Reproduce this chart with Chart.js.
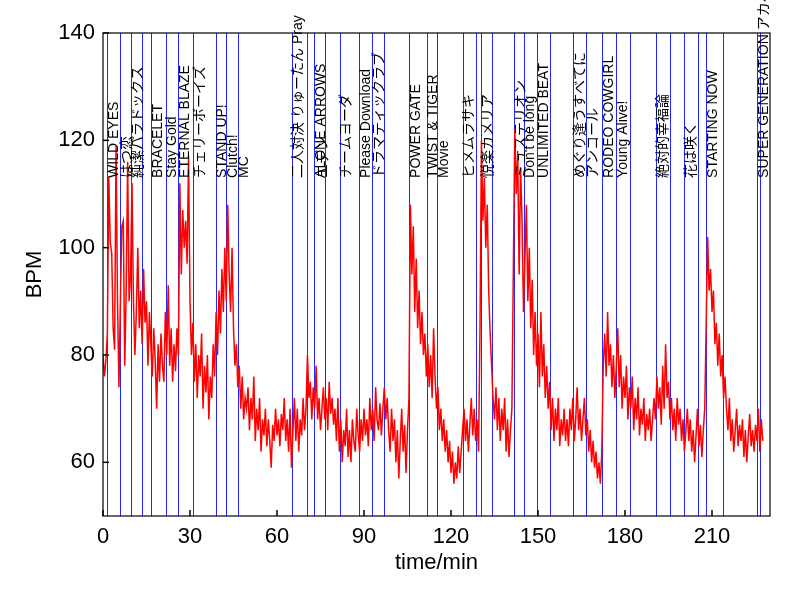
<!DOCTYPE html>
<html><head><meta charset="utf-8">
<script src="https://cdn.jsdelivr.net/npm/chart.js@4/dist/chart.umd.min.js"></script>
<style>html,body{margin:0;padding:0;background:#fff}#wrap{width:800px;height:600px}</style>
</head><body><div id="wrap"><canvas id="c" width="800" height="600"></canvas></div>
<script>
// sampling interval of the heart-rate record (minutes)
const SAMPLE_MIN = 0.5;
// heart rate (BPM), one value per sample
const bpm = [
 80,76,79,84,113,101,99,85,81,119,90,74,90,104,105,78,92,116,90,95,
 112,90,80,88,100,85,92,82,96,86,90,78,88,82,76,85,79,70,82,75,
 84,78,75,88,80,93,78,85,75,82,77,85,80,112,95,107,100,105,97,117,
 90,80,86,75,82,72,80,76,84,70,78,73,80,68,76,72,82,76,88,80,
 92,84,96,88,100,90,108,95,88,100,85,78,82,74,78,70,76,68,72,70,
 74,66,72,68,76,64,70,66,72,62,68,65,70,63,68,64,59,67,64,70,
 65,68,63,69,66,72,64,68,62,70,59,66,72,64,70,62,68,65,72,66,
 70,80,72,75,68,74,70,78,68,72,66,70,74,68,72,66,75,69,72,67,
 70,64,72,62,68,60,66,63,70,61,66,60,68,64,62,70,65,62,68,64,
 70,65,68,63,72,66,70,64,74,68,66,71,65,70,74,68,72,66,62,70,
 64,68,60,66,57,64,70,62,67,58,66,72,108,95,104,88,98,85,92,82,
 88,80,84,76,82,74,80,72,85,76,70,74,66,70,64,68,62,66,60,64,
 58,62,56,60,57,63,58,62,66,70,64,68,62,67,72,65,70,64,68,62,
 85,120,105,113,100,108,92,84,78,72,68,74,66,72,64,70,66,72,62,68,
 61,66,70,96,122,110,118,95,115,105,88,98,108,90,100,85,94,80,88,78,
 84,74,88,76,82,72,78,70,75,66,72,64,70,66,72,63,68,65,70,64,
 68,63,70,66,72,64,68,74,66,70,64,68,72,65,68,62,66,60,64,59,
 62,57,60,56,62,78,84,76,88,78,82,74,80,72,78,85,74,80,70,76,
 72,78,68,74,70,76,66,72,68,74,65,70,67,72,64,69,66,70,64,68,
 72,68,76,70,74,67,78,70,82,72,75,68,72,66,70,64,72,67,70,64,
 68,62,66,70,64,68,62,66,60,65,70,63,67,61,66,70,86,102,92,96,
 88,92,82,86,78,84,76,80,72,76,70,66,72,64,68,62,66,70,63,67,
 64,68,61,66,60,65,69,63,66,62,67,64,70,62,68,64
];
// vertical marker lines (minutes)
const markerTimes = [1.5,5.9,9.7,13.6,16.7,21.6,25.9,31.1,38.8,42.4,46.4,65.0,70.4,72.9,76.6,81.6,88.2,92.9,97.0,105.6,111.6,115.3,124.0,128.7,130.4,134.0,141.8,145.0,149.8,154.3,162.0,166.7,172.0,176.9,181.8,190.6,195.6,200.5,205.2,207.9,213.7,225.4,226.6];
// song labels and their start times (minutes)
const songNames = ["WILD EYES","はつ恋","純潔パラドックス","BRACELET","Stay Gold","ETERNAL BLAZE","チェリーボーイズ","STAND UP!","Clutch!","MC","二人対決 りゅーたん Pray","ALONE ARROWS","エデン","チームヨーダ","Please Download","ドラマティックラブ","POWER GATE","TWIST & TIGER","Movie","ヒメムラサキ","悦楽カメリア","ミュステリオン","Don't be long","UNLIMITED BEAT","めぐり逢うすべてに","アンコール","RODEO COWGIRL","Young Alive!","絶対的幸福論","花は咲く","STARTING NOW","SUPER GENERATION アカペラ"];
const songTimes = [1.5,5.9,9.7,16.7,21.6,25.9,31.1,38.8,42.4,46.4,65.0,72.9,73.4,81.6,88.2,92.9,105.6,111.6,115.3,124.0,130.4,141.8,145.0,149.8,162.0,166.7,172.0,176.9,190.6,200.5,207.9,225.4];
const LABEL_Y = 113;
const xTicks = [0,30,60,90,120,150,180,210];
const yTicks = [60,80,100,120,140];
const X_MIN = 0, X_MAX = 230, Y_MIN = 50, Y_MAX = 140;

const points = bpm.map((v,i)=>({x:i*SAMPLE_MIN, y:v}));
const FONT = "'Liberation Sans', Arial, 'Noto Sans CJK JP', sans-serif";

const overlay = {
  id:'overlay',
  beforeDatasetsDraw(chart){
    const {ctx, chartArea:a, scales:{x}} = chart;
    ctx.save();
    ctx.strokeStyle = 'rgba(0,0,255,0.85)';
    ctx.lineWidth = 1;
    markerTimes.forEach(t=>{
      const px = Math.round(x.getPixelForValue(t))+0.5;
      ctx.beginPath(); ctx.moveTo(px,a.top); ctx.lineTo(px,a.bottom); ctx.stroke();
    });
    ctx.restore();
  },
  afterDraw(chart){
    const {ctx, chartArea:a, scales:{x,y}} = chart;
    ctx.save();
    // frame
    ctx.strokeStyle = '#000'; ctx.lineWidth = 1.2;
    ctx.strokeRect(a.left, a.top, a.right-a.left, a.bottom-a.top);
    // inward ticks
    ctx.lineWidth = 1.5;
    xTicks.forEach(t=>{
      const px = x.getPixelForValue(t);
      ctx.beginPath(); ctx.moveTo(px,a.bottom); ctx.lineTo(px,a.bottom-6); ctx.stroke();
    });
    yTicks.forEach(t=>{
      const py = y.getPixelForValue(t);
      ctx.beginPath(); ctx.moveTo(a.left,py); ctx.lineTo(a.left+6,py); ctx.stroke();
    });
    // song labels
    ctx.fillStyle = '#000';
    ctx.font = "14px " + FONT;
    ctx.textAlign = 'left';
    ctx.textBaseline = 'top';
    songNames.forEach((name,i)=>{
      const px = x.getPixelForValue(songTimes[i]);
      const py = y.getPixelForValue(LABEL_Y);
      ctx.save();
      ctx.translate(px, py);
      ctx.rotate(-Math.PI/2);
      ctx.fillText(name, 0, 0);
      ctx.restore();
    });
    ctx.restore();
  }
};

new Chart(document.getElementById('c'), {
  type:'line',
  data:{datasets:[{data:points, borderColor:'#ff0000', borderWidth:1.5, pointRadius:0, tension:0, fill:false}]},
  options:{
    responsive:false, animation:false,
    layout:{padding:{top:33,right:30,left:0,bottom:0}},
    plugins:{legend:{display:false}, tooltip:{enabled:false}},
    scales:{
      x:{type:'linear', min:X_MIN, max:X_MAX,
        afterBuildTicks:s=>{s.ticks = xTicks.map(v=>({value:v}));},
        afterFit:s=>{s.height = 84;},
        grid:{display:false, drawTicks:false}, border:{display:false},
        ticks:{color:'#000', font:{family:FONT, size:22}, padding:8, maxRotation:0, autoSkip:false},
        title:{display:true, text:'time/min', color:'#000', font:{family:FONT, size:22}, padding:{top:0,bottom:24}}
      },
      y:{type:'linear', min:Y_MIN, max:Y_MAX,
        afterBuildTicks:s=>{s.ticks = yTicks.map(v=>({value:v}));},
        afterFit:s=>{s.width = 103;},
        grid:{display:false, drawTicks:false}, border:{display:false},
        ticks:{color:'#000', font:{family:FONT, size:22}, padding:8, autoSkip:false},
        title:{display:true, text:'BPM', color:'#000', font:{family:FONT, size:22}, padding:{top:22,bottom:0}}
      }
    }
  },
  plugins:[overlay]
});
</script></body></html>
